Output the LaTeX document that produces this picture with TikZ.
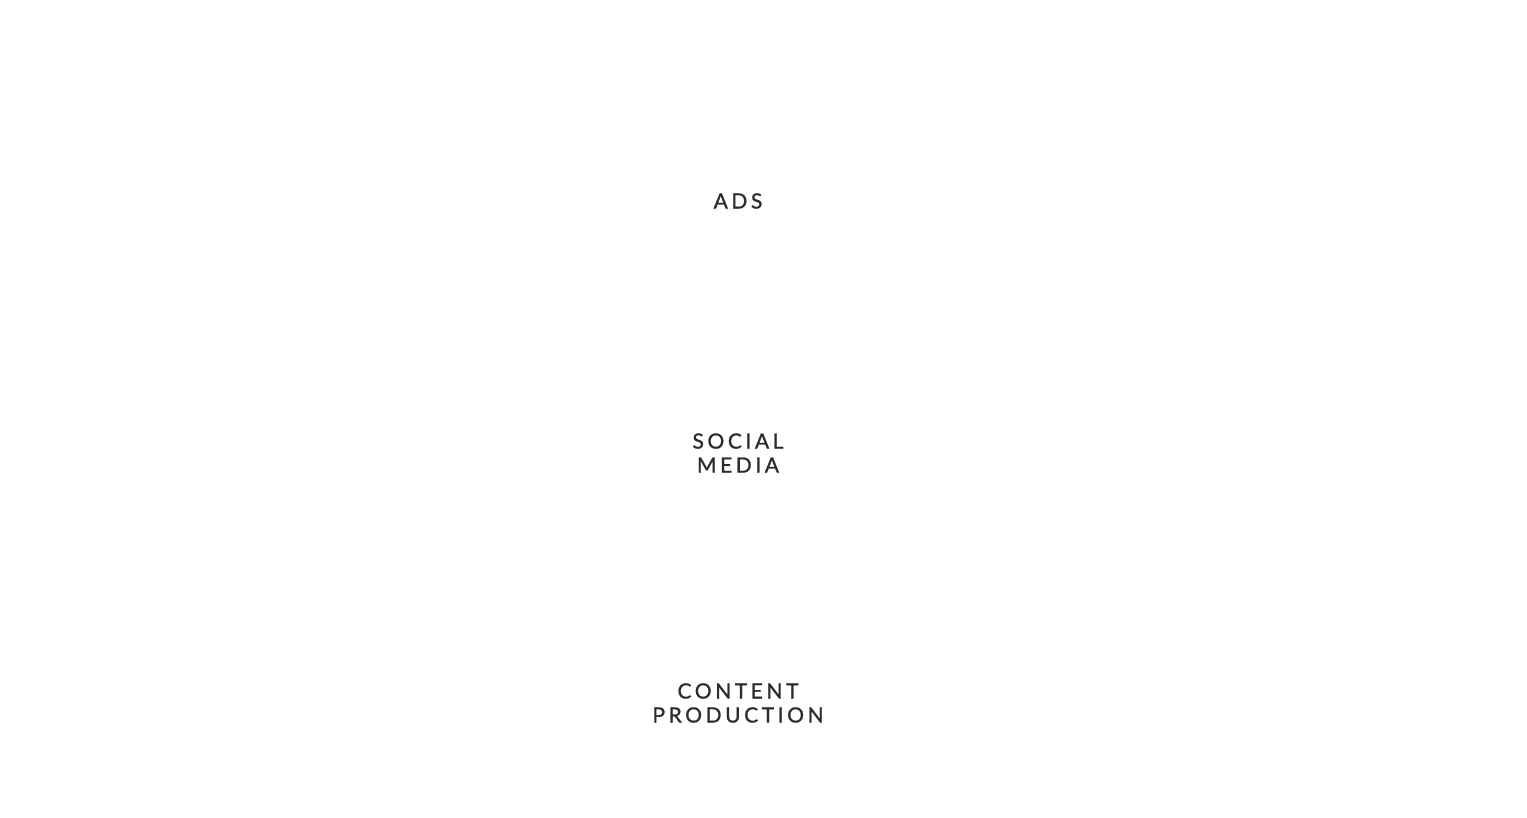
\documentclass[tikz,border=0pt]{standalone}
\usepackage{fontspec}
\setmainfont{Lato}[LetterSpace=17,FakeBold=1]
\definecolor{inkgray}{HTML}{2D2B26}
\tikzset{label text/.style={text=inkgray,font=\fontsize{21}{24}\selectfont,align=center,inner sep=0pt}}
\begin{document}
\begin{tikzpicture}[x=1pt,y=1pt]
\useasboundingbox (0,0) rectangle (1527,818);
\node[label text] (ads) at (738,617) {ADS};
\node[label text] (social) at (738,365) {SOCIAL\\MEDIA};
\node[label text] (content) at (738,115) {CONTENT\\PRODUCTION};
\end{tikzpicture}
\end{document}
